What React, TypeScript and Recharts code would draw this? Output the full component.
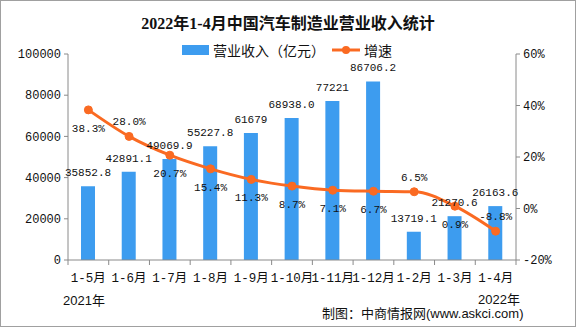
import { ComposedChart, Bar, Line, XAxis, YAxis, LabelList } from 'recharts';

const months = ['1-5月', '1-6月', '1-7月', '1-8月', '1-9月', '1-10月', '1-11月', '1-12月', '1-2月', '1-3月', '1-4月'];
const revenue = [35852.8, 42891.1, 49069.9, 55227.8, 61679, 68938.0, 77221, 86706.2, 13719.1, 21270.6, 26163.6];
const revenueText = ['35852.8', '42891.1', '49069.9', '55227.8', '61679', '68938.0', '77221', '86706.2', '13719.1', '21270.6', '26163.6'];
const growth = [38.3, 28.0, 20.7, 15.4, 11.3, 8.7, 7.1, 6.7, 6.5, 0.9, -8.8];
const leftTicks = [0, 20000, 40000, 60000, 80000, 100000];
const rightTicks = [-20, 0, 20, 40, 60];
// growth labels that sit above their point instead of below
const growthAbove = [1, 8, 10];

const W = 576;
const H = 327;
const LEFT = 68;
const RIGHT = 60;
const TOP = 54;
const XH = 67;
const band = (W - LEFT - RIGHT) / months.length;

const BLUE = '#3d9cef';
const ORANGE = '#fa6a22';
const AXIS = '#8a8a8a';
const MONO = '"Liberation Mono", "Noto Sans CJK SC", monospace';
const SANS = '"Liberation Sans", "Noto Sans CJK SC", sans-serif';

const data = months.map((m, i) => ({
  month: m,
  revenue: revenue[i],
  label: revenueText[i],
  growth: growth[i],
}));

function MonthTick(props: any) {
  const { x, y, payload, index } = props;
  const axisY = y - 13;
  const left = x - band / 2;
  return (
    <g>
      <line x1={left} x2={left} y1={axisY} y2={axisY + 5} stroke={AXIS} />
      {index === months.length - 1 && (
        <line x1={x + band / 2} x2={x + band / 2} y1={axisY} y2={axisY + 5} stroke={AXIS} />
      )}
      <text x={x} y={y} dy="0.71em" textAnchor="middle" fontSize={12.5} fill="#111" fontFamily={MONO}>
        {payload.value}
      </text>
    </g>
  );
}

function GrowthLabel(props: any) {
  const { x, y, value, index } = props;
  const above = growthAbove.includes(index);
  return (
    <text
      x={x}
      y={above ? y - 14 : y + 19}
      textAnchor="middle"
      dominantBaseline="central"
      fontSize={11}
      fill="#111"
      fontFamily={MONO}
    >
      {value.toFixed(1)}%
    </text>
  );
}

const foot = { position: 'absolute' as const, fontFamily: SANS, fontSize: 13, lineHeight: '13px', color: '#111', whiteSpace: 'nowrap' as const };

export default function App() {
  return (
    <div style={{ position: 'absolute', left: 0, top: 0, width: W, height: H, background: '#fff' }}>
      <div
        style={{
          position: 'absolute',
          top: 10,
          width: W,
          textAlign: 'center',
          fontFamily: '"Liberation Serif", "Noto Sans CJK SC", serif',
          fontWeight: 'bold',
          fontSize: 16,
          color: '#111',
        }}
      >
        2022年1-4月中国汽车制造业营业收入统计
      </div>
      <div
        style={{
          position: 'absolute',
          top: 40,
          left: 182,
          display: 'flex',
          alignItems: 'center',
          fontFamily: SANS,
          fontSize: 14,
          color: '#111',
          whiteSpace: 'nowrap',
        }}
      >
        <span style={{ width: 27, height: 10, background: BLUE, display: 'inline-block', marginRight: 4 }} />
        <span>营业收入（亿元）</span>
        <svg width={30} height={12} style={{ marginLeft: 6, marginRight: 3 }}>
          <line x1={1} x2={29} y1={6} y2={6} stroke={ORANGE} strokeWidth={3} />
          <circle cx={15} cy={6} r={4} fill={ORANGE} />
        </svg>
        <span>增速</span>
      </div>
      <ComposedChart
        width={W}
        height={H}
        data={data}
        margin={{ top: TOP, right: 0, bottom: 0, left: 0 }}
        style={{ position: 'absolute', left: 0, top: 0 }}
      >
        <XAxis
          dataKey="month"
          height={XH}
          stroke={AXIS}
          tickLine={false}
          tickSize={5}
          tickMargin={8}
          interval={0}
          tick={<MonthTick />}
        />
        <YAxis
          yAxisId="left"
          width={LEFT}
          domain={[0, 100000]}
          ticks={leftTicks}
          stroke={AXIS}
          tickSize={4}
          tickMargin={3}
          tick={{ fill: '#111', fontSize: 12, fontFamily: MONO }}
        />
        <YAxis
          yAxisId="right"
          orientation="right"
          width={RIGHT}
          domain={[-20, 60]}
          ticks={rightTicks}
          tickFormatter={(v: number) => `${v}%`}
          stroke={AXIS}
          tickSize={4}
          tickMargin={3}
          tick={{ fill: '#111', fontSize: 12, fontFamily: MONO }}
        />
        <Bar yAxisId="left" dataKey="revenue" fill={BLUE} barSize={14} isAnimationActive={false}>
          <LabelList dataKey="label" position="top" offset={10} fontSize={11} fill="#111" fontFamily={MONO} />
        </Bar>
        <Line
          yAxisId="right"
          type="monotone"
          dataKey="growth"
          stroke={ORANGE}
          strokeWidth={3}
          dot={{ r: 4, fill: ORANGE, stroke: ORANGE, strokeWidth: 1 }}
          isAnimationActive={false}
        >
          <LabelList dataKey="growth" content={<GrowthLabel />} />
        </Line>
      </ComposedChart>
      <div style={{ ...foot, left: 63, top: 294 }}>2021年</div>
      <div style={{ ...foot, left: 478, top: 293 }}>2022年</div>
      <div style={{ ...foot, left: 322, top: 307 }}>制图：中商情报网(www.askci.com)</div>
      <div
        style={{
          position: 'absolute',
          left: 0,
          top: 0,
          width: W,
          height: H,
          boxSizing: 'border-box',
          border: '1px solid #a0a0a0',
          pointerEvents: 'none',
        }}
      />
    </div>
  );
}
